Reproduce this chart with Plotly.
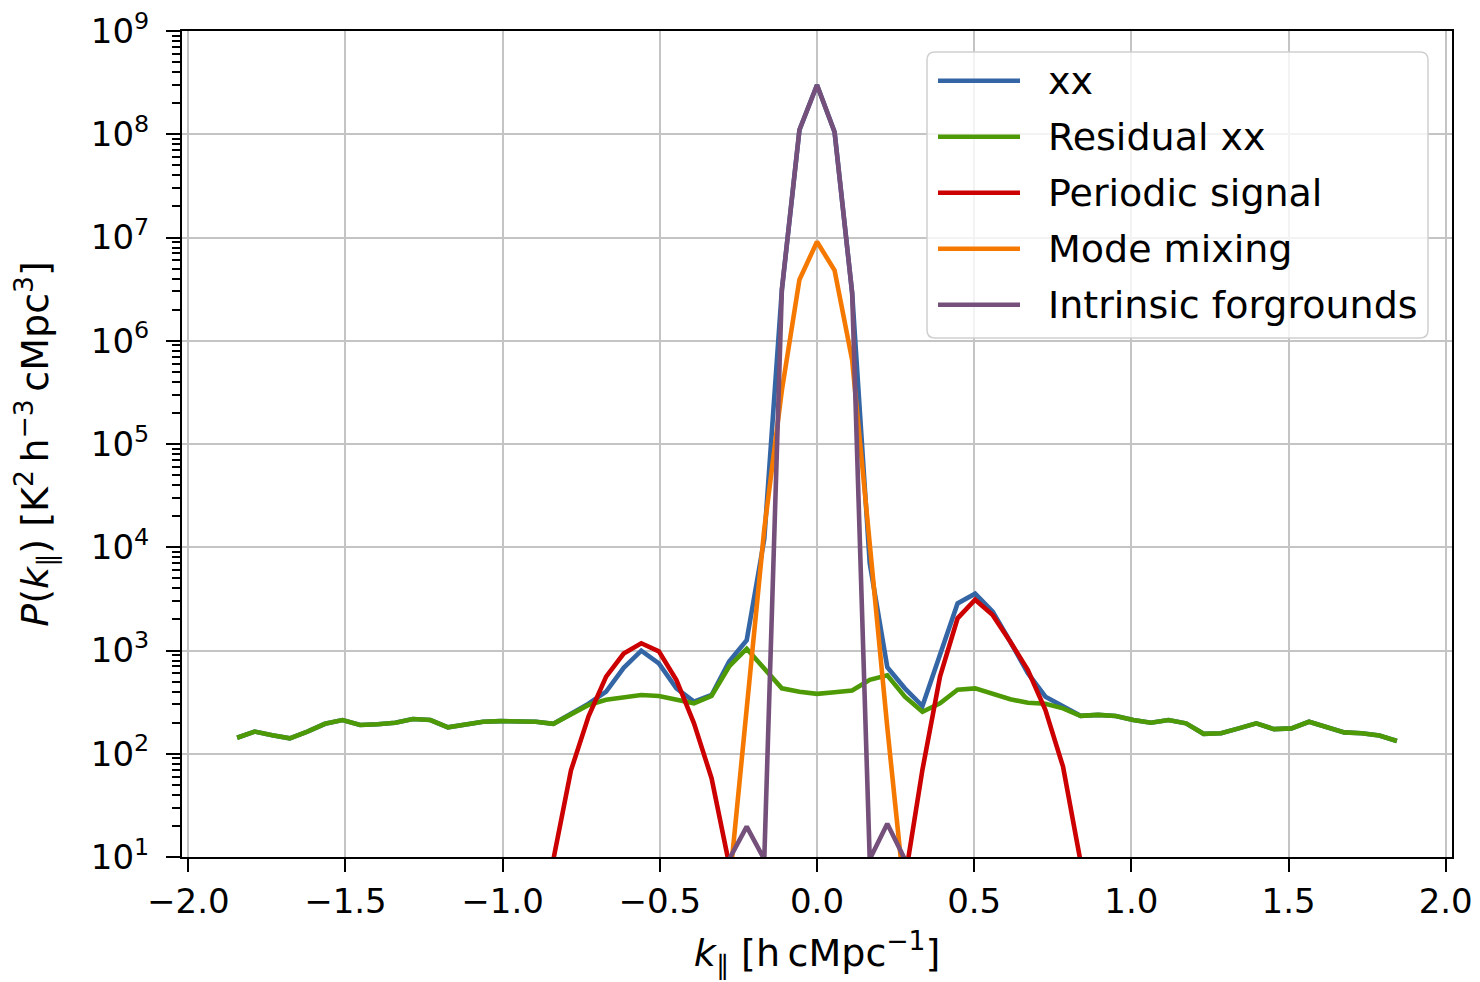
import plotly.graph_objects as go

# ---------------- data ----------------
k_par = [-1.8447, -1.7888, -1.7329, -1.677, -1.6211, -1.5652, -1.5093, -1.4534, -1.3975, -1.3416,
         -1.2857, -1.2298, -1.1739, -1.118, -1.0621, -1.0062, -0.9503, -0.8944, -0.8385, -0.7826,
         -0.7267, -0.6708, -0.6149, -0.559, -0.5031, -0.4472, -0.3913, -0.3354, -0.2795, -0.2236,
         -0.1677, -0.1118, -0.0559, 0.0, 0.0559, 0.1118, 0.1677, 0.2236, 0.2795, 0.3354,
         0.3913, 0.4472, 0.5031, 0.559, 0.6149, 0.6708, 0.7267, 0.7826, 0.8385, 0.8944,
         0.9503, 1.0062, 1.0621, 1.118, 1.1739, 1.2298, 1.2857, 1.3416, 1.3975, 1.4534,
         1.5093, 1.5652, 1.6211, 1.677, 1.7329, 1.7888, 1.8447]

residual_xx = [143, 164, 151, 141, 164, 195, 212, 190, 193, 200,
               217, 212, 180, 190, 204, 207, 207, 204, 195, 244,
               297, 333, 352, 371, 363, 337, 308, 363, 700, 1040,
               660, 430, 398, 380, 394, 410, 520, 575, 357, 255,
               308, 417, 430, 384, 337, 312, 305, 275, 233, 238,
               232, 212, 200, 212, 197, 156, 158, 176, 197, 173,
               176, 204, 183, 161, 158, 150, 133]

xx = [143, 164, 151, 141, 164, 195, 212, 190, 193, 200,
      217, 212, 180, 190, 204, 207, 207, 204, 195, 244,
      305, 400, 680, 995, 750, 430, 320, 371, 780, 1260,
      1.2e4, 3.1e6, 1.1e8, 3.0e8, 1.05e8, 2.9e6, 7.0e3, 690, 430, 290,
      900, 2860, 3550, 2380, 1215, 603, 357, 290, 233, 238,
      232, 212, 200, 212, 197, 156, 158, 176, 197, 173,
      176, 204, 183, 161, 158, 150, 133]

periodic_signal = [None, None, None, None, None, None, None, None, None, None,
                   None, None, None, None, None, None, None, None, 9.5, 69,
                   230, 558, 935, 1175, 980, 518, 197, 58, 8.5, None,
                   None, None, None, None, None, None, None, None, 6, 70,
                   558, 2050, 3100, 2200, 1215, 647, 265, 75, 9, None,
                   None, None, None, None, None, None, None, None, None, None,
                   None, None, None, None, None, None, None]

mode_mixing = [None] * 28 + [5, 250, 1.5e4, 3.3e5, 3.9e6, 9.1e6, 4.8e6, 6.5e5, 1.0e4, 180, 4] + [None] * 28

intrinsic_forgrounds = [None] * 28 + [9.5, 19.7, 9.5, 3.1e6, 1.1e8, 3.0e8, 1.05e8, 2.9e6, 9.5, 21, 9.5] + [None] * 28

series_names = ["xx", "Residual xx", "Periodic signal", "Mode mixing", "Intrinsic forgrounds"]
series_values = [xx, residual_xx, periodic_signal, mode_mixing, intrinsic_forgrounds]
series_colors = ["#3465a4", "#4e9a06", "#cc0000", "#f57900", "#75507b"]

x_tick_vals = [-2.0, -1.5, -1.0, -0.5, 0.0, 0.5, 1.0, 1.5, 2.0]
x_tick_text = ["\u22122.0", "\u22121.5", "\u22121.0", "\u22120.5", "0.0", "0.5", "1.0", "1.5", "2.0"]
y_exponents = [1, 2, 3, 4, 5, 6, 7, 8, 9]

# ---------------- layout geometry ----------------
W, H = 1480, 982
PL, PR, PT, PB = 182, 1452, 31, 857  # plot area in pixels
FONT = "DejaVu Sans"
FS_TICK = 34
FS_LABEL = 38
LW = 4.6

fig = go.Figure()
for name, vals, col in zip(series_names, series_values, series_colors):
    fig.add_trace(go.Scatter(x=k_par, y=vals, mode="lines", name=name,
                             line=dict(color=col, width=LW), showlegend=False,
                             connectgaps=False))

y_tick_vals = [10 ** e for e in y_exponents]
y_tick_text = ["10<sup>%d</sup>" % e for e in y_exponents]
y_minor_vals = [m * 10 ** e for e in y_exponents[:-1] for m in range(2, 10)]

fig.update_layout(
    width=W, height=H,
    margin=dict(l=PL, r=W - PR, t=PT, b=H - PB, autoexpand=False),
    paper_bgcolor="white", plot_bgcolor="white",
    font=dict(family=FONT, size=FS_TICK, color="black"),
    xaxis=dict(
        range=[-2.02, 2.02], tickmode="array", tickvals=x_tick_vals, ticktext=x_tick_text,
        ticks="outside", ticklen=13, tickwidth=2, tickcolor="black",
        showgrid=True, gridcolor="#c4c4c4", gridwidth=2, zeroline=False,
        showline=True, linecolor="black", linewidth=2, mirror=True, automargin=False,
        tickfont=dict(size=FS_TICK),
        title=dict(text="<i>k</i><sub>\u2225</sub> [h\u2009cMpc<sup>\u22121</sup>]",
                   font=dict(size=FS_LABEL), standoff=20),
    ),
    yaxis=dict(
        type="log", range=[1, 9], tickmode="array", tickvals=y_tick_vals, ticktext=y_tick_text,
        ticks="outside", ticklen=14, tickwidth=2, tickcolor="black",
        showgrid=True, gridcolor="#c4c4c4", gridwidth=2, zeroline=False,
        showline=True, linecolor="black", linewidth=2, mirror=True, automargin=False,
        tickfont=dict(size=FS_TICK), ticklabelstandoff=10,
        minor=dict(tickmode="array", tickvals=y_minor_vals, ticks="outside",
                   ticklen=8, tickwidth=1.5, tickcolor="black", showgrid=False),
        title=dict(text="<i>P</i>(<i>k</i><sub>\u2225</sub>) [K<sup>2</sup>\u2009h<sup>\u22123</sup>\u2009cMpc<sup>3</sup>]",
                   font=dict(size=FS_LABEL), standoff=30),
    ),
)

# ---------------- custom legend (matplotlib style) ----------------
def px_x(p):
    return (p - PL) / (PR - PL)

def px_y(p):
    return (PB - p) / (PB - PT)

bx0, bx1, by0, by1, r = 927, 1428, 52, 338, 8
path = ("M {a},{b} L {c},{b} Q {x1},{b} {x1},{d} L {x1},{e} Q {x1},{f} {c},{f} "
        "L {a},{f} Q {x0},{f} {x0},{e} L {x0},{d} Q {x0},{b} {a},{b} Z").format(
    a=px_x(bx0 + r), c=px_x(bx1 - r), b=px_y(by0), d=px_y(by0 + r), e=px_y(by1 - r),
    f=px_y(by1), x0=px_x(bx0), x1=px_x(bx1))
fig.add_shape(type="path", xref="paper", yref="paper", path=path,
              fillcolor="rgba(255,255,255,0.8)", line=dict(color="#d0d0d0", width=1.5),
              layer="above")

row0, row_gap = 80.7, 56
for j, (name, col) in enumerate(zip(series_names, series_colors)):
    yc = row0 + j * row_gap
    fig.add_shape(type="line", xref="paper", yref="paper",
                  x0=px_x(938), x1=px_x(1020), y0=px_y(yc), y1=px_y(yc),
                  line=dict(color=col, width=LW), layer="above")
    fig.add_annotation(text=name, xref="paper", yref="paper", x=px_x(1046), y=px_y(yc),
                       xanchor="left", yanchor="middle", showarrow=False,
                       font=dict(family=FONT, size=FS_LABEL, color="black"))

fig.write_html("out.html")
